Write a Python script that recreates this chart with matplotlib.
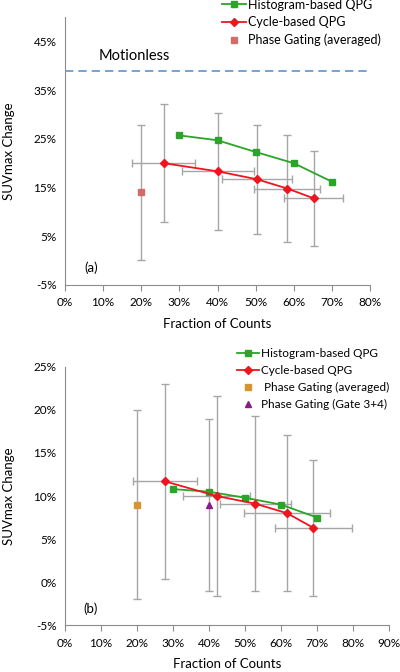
import matplotlib
matplotlib.use("Agg")
import matplotlib.pyplot as plt
from matplotlib.ticker import FuncFormatter

plt.rcParams['font.family'] = ['Lato', 'DejaVu Sans']

# ---- panel (a) data (percent) ----
hist_a_x = [30, 40, 50, 60, 70]
hist_a_y = [25.7, 24.7, 22.3, 20.0, 16.2]
cyc_a_x = [25.9, 40.2, 50.3, 58.3, 65.2]
cyc_a_y = [20.0, 18.3, 16.7, 14.8, 12.8]
cyc_a_xerr = [8.2, 9.4, 9.2, 8.6, 7.7]
cyc_a_yerr = [12.1, 12.0, 11.2, 10.9, 9.8]
pg_a_x = [20]
pg_a_y = [14.0]
pg_a_yerr = [13.8]
motionless = 39.0

# ---- panel (b) data (percent) ----
hist_b_x = [30, 40, 50, 60, 70]
hist_b_y = [10.8, 10.5, 9.8, 9.0, 7.5]
cyc_b_x = [27.8, 42.1, 52.9, 61.7, 69.0]
cyc_b_y = [11.7, 10.0, 9.1, 8.0, 6.3]
cyc_b_xerr = [9.0, 9.3, 9.9, 12.0, 10.8]
cyc_b_yerr = [11.3, 11.6, 10.2, 9.1, 7.9]
pg_b_x = [20]
pg_b_y = [9.0]
pg_b_yerr = [11.0]
g34_x = [40]
g34_y = [8.9]
g34_yerr = [10.0]

GREEN = '#2aa52a'
RED = '#f0141e'
ERR = '#a6a6a6'
AXC = '#8c8c8c'
pct = FuncFormatter(lambda v, p: f'{v:.0f}%')

fig = plt.figure(figsize=(4, 6.72), dpi=100)
ax1 = fig.add_axes([0.1625, 0.5759, 0.7625, 0.3988])
ax2 = fig.add_axes([0.1625, 0.0699, 0.81, 0.384])


def style(ax, xmax, ylo, yhi, yticks):
    ax.set_xlim(0, xmax)
    ax.set_ylim(ylo, yhi)
    ax.set_xticks(range(0, xmax + 1, 10))
    ax.set_yticks(yticks)
    ax.xaxis.set_major_formatter(pct)
    ax.yaxis.set_major_formatter(pct)
    for s in ['top', 'right']:
        ax.spines[s].set_visible(False)
    for s in ['left', 'bottom']:
        ax.spines[s].set_color(AXC)
        ax.spines[s].set_linewidth(0.8)
    ax.tick_params(axis='x', length=4, width=0.8, color=AXC, labelsize=8.5, pad=5)
    ax.tick_params(axis='y', length=0, labelsize=8.5, pad=6)
    ax.set_xlabel('Fraction of Counts', fontsize=9.5, labelpad=7)
    ax.set_ylabel('SUVmax Change', fontsize=9.5, labelpad=13)


# panel (a)
style(ax1, 80, -5, 50, [-5, 5, 15, 25, 35, 45])
ax1.axhline(motionless, color='#5b93d3', lw=1.2, ls=(0, (5, 3)), clip_on=False)
ax1.text(8.7, 41.9, 'Motionless', fontsize=10.5, va='center', ha='left')
ax1.errorbar(pg_a_x, pg_a_y, yerr=pg_a_yerr, fmt='none', ecolor=ERR, elinewidth=1, capsize=3, zorder=1)
ax1.errorbar(cyc_a_x, cyc_a_y, xerr=cyc_a_xerr, yerr=cyc_a_yerr, fmt='none', ecolor=ERR, elinewidth=1, capsize=3, zorder=1)
l1, = ax1.plot(hist_a_x, hist_a_y, color=GREEN, marker='s', ms=4.5, lw=1.3, label='Histogram-based QPG', zorder=3)
l2, = ax1.plot(cyc_a_x, cyc_a_y, color=RED, marker='D', ms=4, lw=1.3, label='Cycle-based QPG', zorder=3)
l3, = ax1.plot(pg_a_x, pg_a_y, ls='none', color='#d46b6b', marker='s', ms=5, label='Phase Gating (averaged)', zorder=3)
ax1.text(5.2, -1.4, '(a)', fontsize=9.5, va='center')
ax1.legend(handles=[l1, l2, l3], loc='upper left', bbox_to_anchor=(0.555, 1.002), bbox_transform=fig.transFigure,
           frameon=False, fontsize=9, handlelength=1.9, handletextpad=0.2, labelspacing=0.45,
           borderaxespad=0, borderpad=0.0)

# panel (b)
style(ax2, 90, -5, 25, [-5, 0, 5, 10, 15, 20, 25])
ax2.errorbar(pg_b_x, pg_b_y, yerr=pg_b_yerr, fmt='none', ecolor=ERR, elinewidth=1, capsize=3, zorder=1)
ax2.errorbar(g34_x, g34_y, yerr=g34_yerr, fmt='none', ecolor=ERR, elinewidth=1, capsize=3, zorder=1)
ax2.errorbar(cyc_b_x, cyc_b_y, xerr=cyc_b_xerr, yerr=cyc_b_yerr, fmt='none', ecolor=ERR, elinewidth=1, capsize=3, zorder=1)
m1, = ax2.plot(hist_b_x, hist_b_y, color=GREEN, marker='s', ms=4.5, lw=1.3, label='Histogram-based QPG', zorder=3)
m2, = ax2.plot(cyc_b_x, cyc_b_y, color=RED, marker='D', ms=4, lw=1.3, label='Cycle-based QPG', zorder=3)
m3, = ax2.plot(pg_b_x, pg_b_y, ls='none', color='#d89430', marker='s', ms=5, label=' Phase Gating (averaged)', zorder=3)
m4, = ax2.plot(g34_x, g34_y, ls='none', color='#8b1a8b', marker='^', ms=5, label='Phase Gating (Gate 3+4)', zorder=3)
ax2.text(5.2, -3.1, '(b)', fontsize=9.5, va='center')
ax2.legend(handles=[m1, m2, m3, m4], loc='upper left', bbox_to_anchor=(0.59, 0.483), bbox_transform=fig.transFigure,
           frameon=False, fontsize=8.5, handlelength=1.9, handletextpad=0.2, labelspacing=0.5,
           borderaxespad=0, borderpad=0.05)

fig.savefig('out.png', dpi=100)
